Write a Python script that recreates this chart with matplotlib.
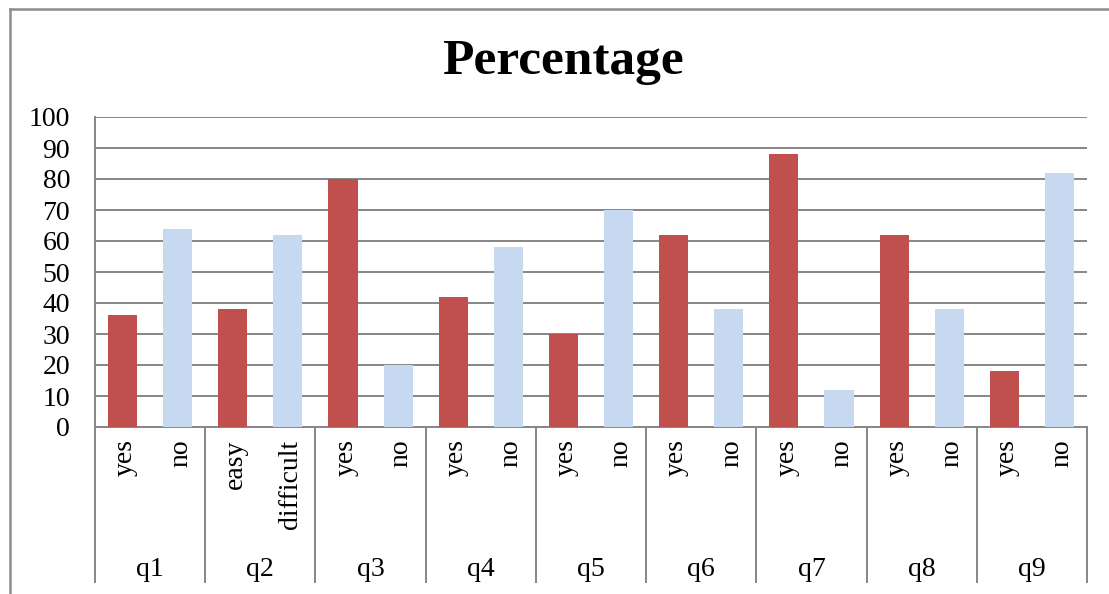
import numpy as np
import matplotlib
matplotlib.use('Agg')
import matplotlib.pyplot as plt
from matplotlib.lines import Line2D

plt.rcParams['font.family'] = ['Liberation Serif', 'DejaVu Serif']

questions = ['q1', 'q2', 'q3', 'q4', 'q5', 'q6', 'q7', 'q8', 'q9']
answers = ['yes', 'no', 'easy', 'difficult', 'yes', 'no', 'yes', 'no', 'yes', 'no',
           'yes', 'no', 'yes', 'no', 'yes', 'no', 'yes', 'no']
values = [36, 64, 38, 62, 80, 20, 42, 58, 30, 70, 62, 38, 88, 12, 62, 38, 18, 82]

red = '#C0504D'
blue = '#C6D9F1'
grid_col = '#868686'

fig = plt.figure(figsize=(11.09, 5.94), dpi=100)
ax = fig.add_axes([95 / 1109, 1 - 427 / 594, 992 / 1109, 310 / 594])

x = np.arange(len(values))
colors = [red if i % 2 == 0 else blue for i in range(len(values))]
ax.bar(x, values, width=0.53, color=colors, zorder=3)

ax.set_xlim(-0.5, len(values) - 0.5)
ax.set_ylim(0, 100)
ax.set_yticks(range(0, 101, 10))
ax.yaxis.grid(True, color=grid_col, lw=1.4, zorder=0)
ax.tick_params(axis='y', length=0, labelsize=20, pad=18)

# category labels handled manually
ax.set_xticks([])
bounds = np.arange(-0.5, len(values), 2)
ax.set_xticks(bounds, minor=True)
ax.tick_params(axis='x', which='minor', length=112, color=grid_col, width=1.4)

for s in ['top', 'right']:
    ax.spines[s].set_visible(False)
for s in ['left', 'bottom']:
    ax.spines[s].set_color(grid_col)
    ax.spines[s].set_linewidth(1.4)

trans = ax.get_xaxis_transform()
for i, lab in enumerate(answers):
    ax.text(i + 0.05, -0.04, lab, rotation=90, ha='center', va='top',
            fontsize=20, transform=trans)
for j, q in enumerate(questions):
    ax.text(2 * j + 0.5, -0.46, q, ha='center', va='center',
            fontsize=20, transform=trans)

fig.text(563 / 1109, 1 - 74 / 594, 'Percentage', fontsize=37, fontweight='bold',
         ha='center', va='baseline')

# outer chart frame
fig.add_artist(Line2D([9.5 / 1109, 1], [1 - 8.5 / 594, 1 - 8.5 / 594],
                      transform=fig.transFigure, color='#8c8c8c', lw=1.8))
fig.add_artist(Line2D([9.5 / 1109, 9.5 / 1109], [0, 1 - 8.5 / 594],
                      transform=fig.transFigure, color='#8c8c8c', lw=1.8))

fig.savefig('out.png', dpi=100)
